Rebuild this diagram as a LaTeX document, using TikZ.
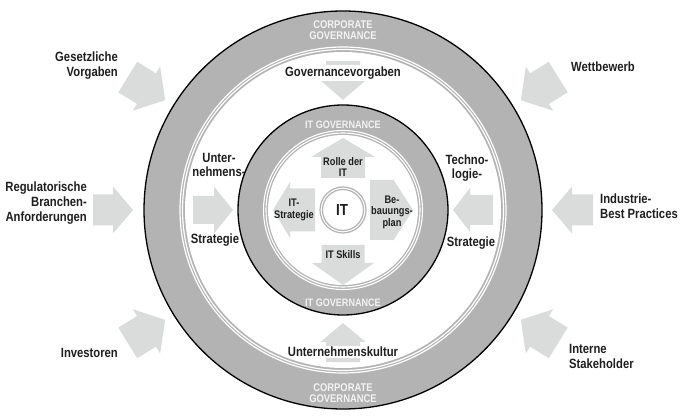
\documentclass[tikz,border=0pt]{standalone}
\usepackage{fontspec}
\setmainfont{Liberation Sans}[FakeStretch=0.84]
\definecolor{ringgray}{HTML}{B3B3B3}
\definecolor{arrowgray}{HTML}{DADBDB}
\definecolor{txt}{HTML}{1E1E1E}
\definecolor{ringtxt}{HTML}{F2F2F2}
% #1 angle, #2 r back, #3 r neck, #4 r tip, #5 body half width, #6 head half width
\newcommand\blockarr[6]{\fill[arrowgray, shift={(c)}, rotate=#1] (#2,-#5) -- (#3,-#5) -- (#3,-#6) -- (#4,0) -- (#3,#6) -- (#3,#5) -- (#2,#5) -- cycle;}
\begin{document}
\begin{tikzpicture}[x=1pt,y=1pt,
  lab/.style={font=\bfseries\fontsize{13.4}{14.8}\selectfont, text=txt, inner sep=0pt},
  inlab/.style={font=\bfseries\fontsize{11}{11.5}\selectfont, text=txt, inner sep=0pt, align=center},
  ringlab/.style={font=\bfseries\fontsize{11.2}{11.5}\selectfont, text=ringtxt, inner sep=0pt, align=center},
  whitebox/.style={lab, fill=white, inner xsep=1pt, inner ysep=1.5pt}
]
\useasboundingbox (0,0) rectangle (685,415);
\coordinate (c) at (343,205);

% outer ring
\fill[ringgray] (c) circle (199);
\fill[white] (c) circle (158);
\draw[white, line width=1.2] (c) circle (163) (c) circle (160.5);
\draw[black, line width=1.3] (c) circle (199);

% outer arrows (pointing to the centre)
\blockarr{180}{250}{230}{210}{15.5}{23.5}
\blockarr{0}{250}{229}{209}{15.5}{23.5}
\blockarr{148.3}{253}{231}{209}{18}{26}
\blockarr{31.7}{253}{231}{209}{18}{26}
\blockarr{211.7}{253}{231}{209}{18}{26}
\blockarr{328.3}{253}{231}{209}{18}{26}

% arrows inside the outer ring
\blockarr{90}{149}{130}{110}{17}{23}
\blockarr{270}{152}{132}{113}{17}{22.5}
\blockarr{180}{150}{129}{110}{14}{23.5}
\blockarr{0}{150}{127}{110}{15}{22}

% inner ring
\fill[ringgray] (c) circle (105);
\fill[white] (c) circle (75);
\draw[white, line width=1.1] (c) circle (79.5) (c) circle (77);
\draw[black, line width=1.3] (c) circle (105);

% inner arrows (pointing outwards)
\blockarr{90}{32}{53}{72}{22}{32}
\blockarr{270}{35}{53}{75}{21.5}{31}
\blockarr{180}{28}{53}{70}{21.5}{28}
\blockarr{0}{27}{50}{70}{30}{31}

% centre
\draw[ringgray, line width=1.2] (c) circle (23) (c) circle (20.5);
\node[font=\bfseries\fontsize{16}{17}\selectfont, text=txt] (it) at (342,205) {IT};

% ring texts
\node[ringlab] (cg1) at (343,385) {CORPORATE\\GOVERNANCE};
\node[ringlab] (cg2) at (343,22) {CORPORATE\\GOVERNANCE};
\node[ringlab, font=\bfseries\fontsize{10.8}{11}\selectfont] (itg1) at (343,290) {IT GOVERNANCE};
\node[ringlab, font=\bfseries\fontsize{10.8}{11}\selectfont] (itg2) at (343,112) {IT GOVERNANCE};

% labels in the outer ring area
\node[whitebox] (govvor) at (343,342) {Governancevorgaben};
\node[whitebox] (unkult) at (343,63) {Unternehmenskultur};
\node[lab, align=center] (unter) at (219,250) {Unter-\\nehmens-};
\node[lab] (stratl) at (215,175) {Strategie};
\node[lab, align=center] (techno) at (467,247) {Techno-\\logie-};
\node[lab] (stratr) at (471,172) {Strategie};

% inner labels
\node[inlab] (rolle) at (343,248) {Rolle der\\IT};
\node[inlab] (skills) at (343,160) {IT Skills};
\node[inlab] (itstrat) at (294,205) {IT-\\Strategie};
\node[inlab] (bebau) at (392,203) {Be-\\bauungs-\\plan};

% outer labels
\node[lab, anchor=east, align=right] (gesetz) at (118,349.5) {Gesetzliche\\Vorgaben};
\node[lab, anchor=west, align=left] (wett) at (571,348) {Wettbewerb};
\node[lab, anchor=east, align=right] (regul) at (87,212) {Regulatorische\\Branchen-\\Anforderungen};
\node[lab, anchor=west, align=left] (indus) at (600,208.5) {Industrie-\\Best Practices};
\node[lab, anchor=east, align=right] (invest) at (118,62) {Investoren};
\node[lab, anchor=west, align=left] (intern) at (569,58.5) {Interne\\Stakeholder};
\end{tikzpicture}
\end{document}
